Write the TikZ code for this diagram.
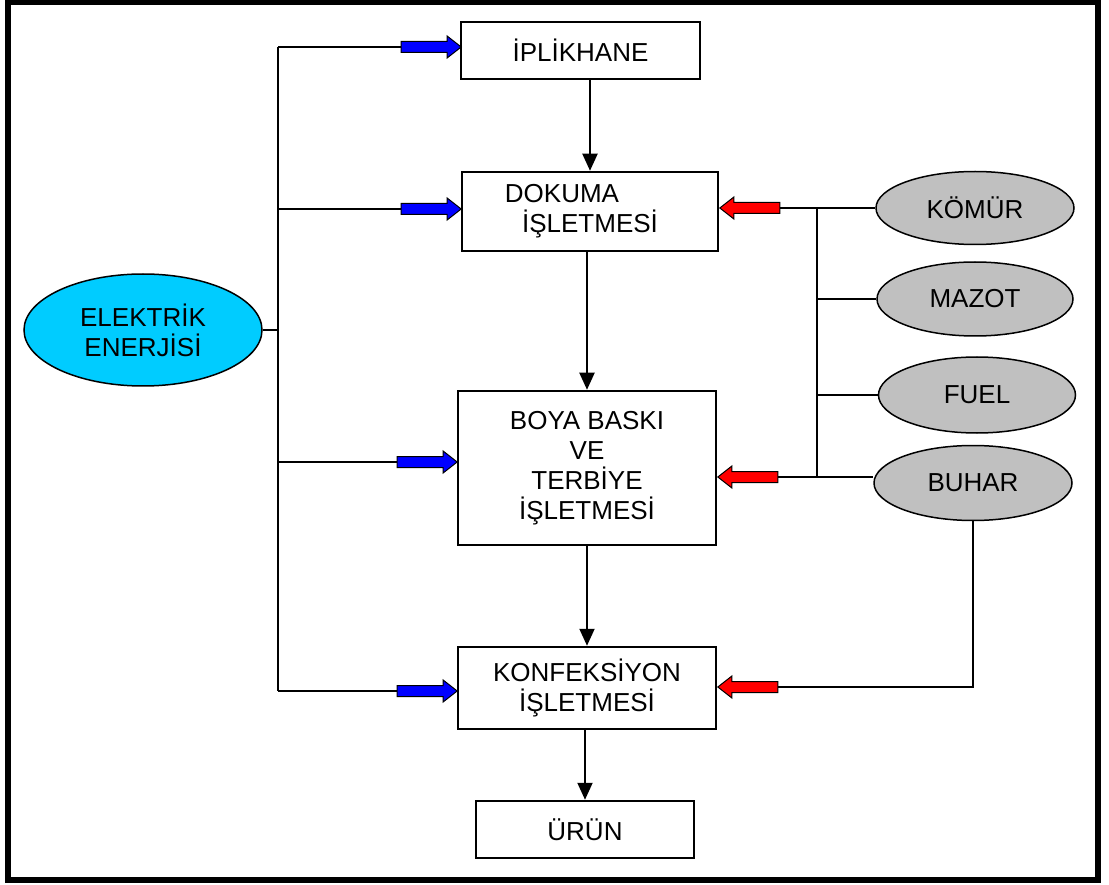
\documentclass[tikz,border=0pt]{standalone}
\usepackage{fontspec}
\setmainfont{Liberation Sans}
\usetikzlibrary{shapes.geometric,shapes.arrows,arrows.meta}
\definecolor{elcol}{RGB}{0,204,255}
\definecolor{fuelcol}{RGB}{192,192,192}

\begin{document}
\begin{tikzpicture}[x=1pt, y=-1pt, line width=2pt,
  box/.style={rectangle, draw, line width=2.5pt, fill=white, inner sep=0pt, align=center, font=\fontsize{26}{30}\selectfont},
  oval/.style={ellipse, draw, line width=1.5pt, fill=fuelcol, inner sep=0pt, align=center, font=\fontsize{26}{30}\selectfont},
  blk/.style={single arrow, draw, line width=1pt, inner xsep=0pt, inner ysep=5pt, minimum height=60pt, single arrow head extend=5.5pt, single arrow tip angle=76},
  bluearr/.style={blk, fill=blue},
  redarr/.style={blk, fill=red, shape border rotate=180},
  flow/.style={-{Triangle[length=17pt,width=15pt]}}]
  \useasboundingbox (0,0) rectangle (1109,885);
  \draw[line width=5.5pt] (8,2) rectangle (1098,880);

  \node[box, minimum width=239pt, minimum height=57pt] (ip) at (580.5,50.5) {İPLİKHANE};
  \node[box, minimum width=256pt, minimum height=79pt] (dok) at (590,211.5) {DOKUMA\hspace*{56pt}\\İŞLETMESİ};
  \node[box, minimum width=258pt, minimum height=154pt] (boy) at (587,468) {BOYA BASKI\\VE\\TERBİYE\\İŞLETMESİ};
  \node[box, minimum width=258pt, minimum height=82pt] (konf) at (587,688) {KONFEKSİYON\\İŞLETMESİ};
  \node[box, minimum width=218pt, minimum height=57pt] (urun) at (585,829.5) {ÜRÜN};

  \node[oval, fill=elcol, minimum width=238pt, minimum height=112pt] (elk) at (143,330) {ELEKTRİK\\ENERJİSİ};
  \node[oval, minimum width=198pt, minimum height=73pt] (kom) at (975,208) {KÖMÜR};
  \node[oval, minimum width=196pt, minimum height=74pt] (maz) at (975,299) {MAZOT};
  \node[oval, minimum width=197pt, minimum height=76pt] (fuel) at (977,395) {FUEL};
  \node[oval, minimum width=198pt, minimum height=75pt] (buh) at (973,483) {BUHAR};

  \coordinate (bt) at (278,47);
  \coordinate (bb) at (278,691);
  \coordinate (rt) at (817,208);
  \coordinate (rb) at (817,477);

  \node[bluearr, anchor=tip] (b1) at (462,47) {};
  \node[bluearr, anchor=tip] (b2) at (462,209) {};
  \node[bluearr, anchor=tip] (b3) at (458,462) {};
  \node[bluearr, anchor=tip] (b4) at (458,691) {};
  \node[redarr, anchor=tip] (r1) at (719,208) {};
  \node[redarr, anchor=tip] (r2) at (717,477) {};
  \node[redarr, anchor=tip] (r3) at (717,687) {};

  \draw (bt) -- (bb);
  \draw (b1.tail) -- (b1.tail -| bt);
  \draw (b2.tail) -- (b2.tail -| bt);
  \draw (b3.tail) -- (b3.tail -| bt);
  \draw (b4.tail) -- (b4.tail -| bt);
  \draw (elk.east) -- (elk.east -| bt);

  \draw (rt) -- (rb);
  \draw (r1.tail) -- (kom.west);
  \draw (maz.west) -- (maz.west -| rt);
  \draw (fuel.west) -- (fuel.west -| rt);
  \draw (r2.tail) -- (r2.tail -| buh.west);
  \draw (buh.south) |- (r3.tail);

  \draw[flow] (dok.north |- ip.south) -- (dok.north);
  \draw[flow] (dok.south -| boy.north) -- (boy.north);
  \draw[flow] (boy.south) -- (konf.north);
  \draw[flow] (konf.south -| urun.north) -- (urun.north);
\end{tikzpicture}
\end{document}
